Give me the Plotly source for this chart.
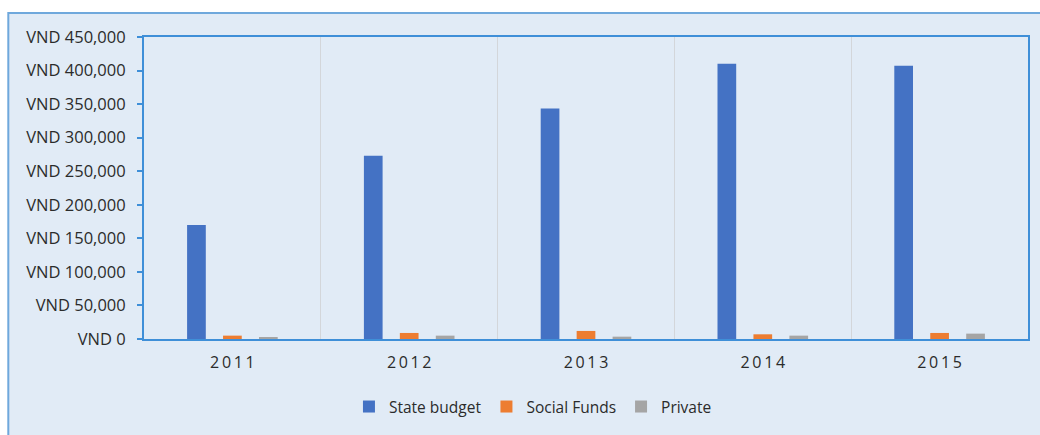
import plotly.graph_objects as go

# Funding sources by year (VND)
years = ["2011", "2012", "2013", "2014", "2015"]
state_budget = [170000, 273000, 343500, 410000, 407000]
social_funds = [5000, 9000, 12000, 7000, 9000]
private = [2000, 5000, 3500, 5000, 8000]

series = [
    ("State budget", state_budget, "#4472C4"),
    ("Social Funds", social_funds, "#ED7D31"),
    ("Private", private, "#A5A5A5"),
]

# letter-spaced year labels
tick_text = ["\u2009".join(y) for y in years]

BG = "#E1EBF6"
FRAME = "#3F8FD8"
TEXT = "#2B2B2B"
FONT = "Open Sans"

fig = go.Figure()
for name, vals, color in series:
    fig.add_trace(go.Bar(x=years, y=vals, name=name, marker=dict(color=color, line=dict(width=0))))

fig.update_layout(
    width=1040,
    height=435,
    margin=dict(l=144, r=10, t=37, b=96),
    paper_bgcolor="white",
    plot_bgcolor=BG,
    barmode="group",
    bargap=0.39,
    bargroupgap=0.48,
    font=dict(family=FONT, size=16, color=TEXT),
    showlegend=True,
    legend=dict(
        orientation="h",
        x=0.44,
        xanchor="center",
        y=-0.225,
        yanchor="middle",
        font=dict(family=FONT, size=15.5, color=TEXT),
        bgcolor="rgba(0,0,0,0)",
        itemclick=False,
    ),
    shapes=[
        # outer chart frame
        dict(
            type="rect",
            xref="paper",
            yref="paper",
            x0=-0.1535,
            x1=1.2,
            y0=-0.6,
            y1=1.0795,
            fillcolor=BG,
            line=dict(color="#6FA8DC", width=2),
            layer="below",
        )
    ],
)

fig.update_xaxes(
    type="category",
    tickmode="array",
    tickvals=years,
    ticktext=tick_text,
    tickson="boundaries",
    ticks="",
    showgrid=True,
    gridcolor="#D3D6DA",
    gridwidth=1,
    showline=True,
    linecolor=FRAME,
    linewidth=2,
    mirror=True,
    tickfont=dict(family=FONT, size=16, color=TEXT),
    ticklabelstandoff=8,
)

fig.update_yaxes(
    range=[0, 450000],
    dtick=50000,
    tickprefix="VND ",
    tickformat=",d",
    showgrid=False,
    zeroline=False,
    ticks="outside",
    ticklen=5,
    tickcolor=FRAME,
    tickwidth=2,
    showline=True,
    linecolor=FRAME,
    linewidth=2,
    mirror=True,
    tickfont=dict(family=FONT, size=16.5, color=TEXT),
    ticklabelstandoff=8,
)

fig.write_html("out.html")
